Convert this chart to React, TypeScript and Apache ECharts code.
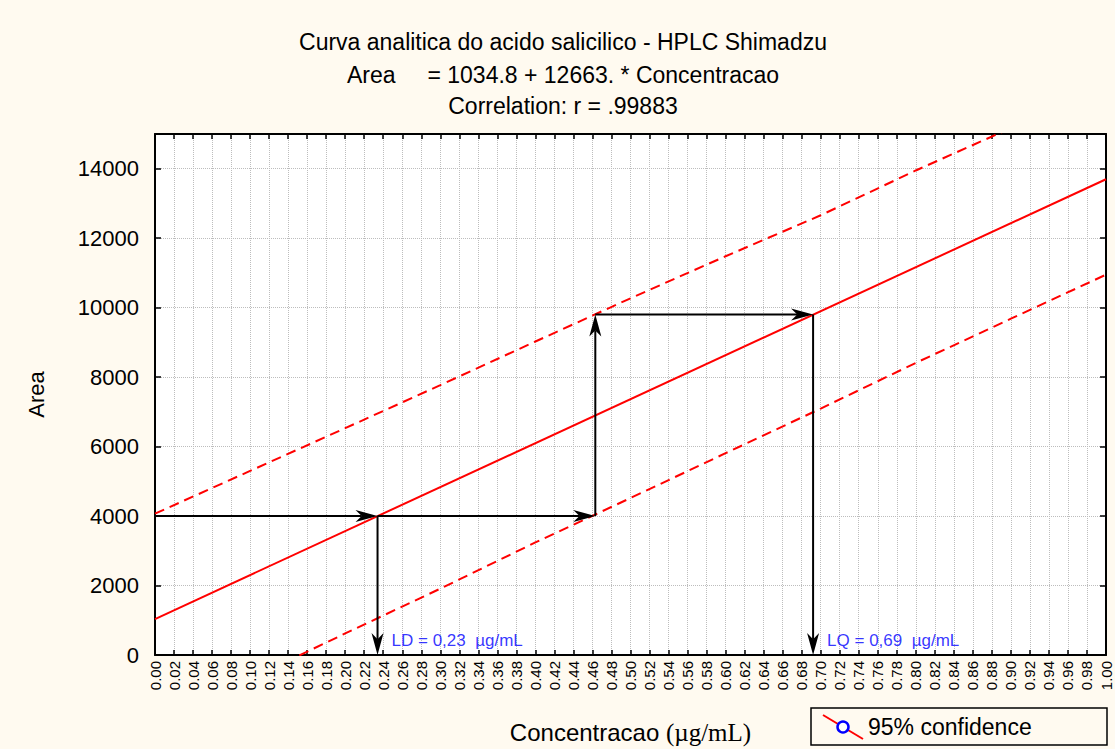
import React, { useEffect, useRef } from 'react';
import * as echarts from 'echarts';

// ---- data ----
const bandX = [0, 0.1, 0.2, 0.3, 0.4, 0.5, 0.6, 0.7, 0.8, 0.9, 1.0];
const upperBand = [4070, 5300, 6530, 7770, 9025, 10270, 11480, 12660, 13950, 15170, 16430];
const lowerBand = [-2000, -690, 620, 1910, 3240, 4520, 5810, 7095, 8410, 9682, 10950];
const regX = [0, 1];
const regY = [1034.8, 13697.8];

const ldX = 0.234;
const lqX = 0.692;
const ldArea = 4000;
const lqArea = 9800;
const crossX = 0.463;
const ldText = 'LD = 0,23\u00a0\u00a0µg/mL';
const lqText = 'LQ = 0,69\u00a0\u00a0µg/mL';
const labelArea = 420;

const titleLines = [
  'Curva analitica do acido salicilico - HPLC Shimadzu',
  'Area\u00a0\u00a0\u00a0\u00a0 = 1034.8 + 12663. * Concentracao',
  'Correlation: r = .99883',
];
const legendLabel = '95% confidence';

const SANS = '"Liberation Sans", Arial, Helvetica, sans-serif';
const SERIF = '"Liberation Serif", "Times New Roman", serif';

export default function App() {
  const ref = useRef<HTMLDivElement>(null);
  useEffect(() => {
    document.body.style.margin = '0';
    const chart = echarts.init(ref.current!, null, { renderer: 'svg' });

    const segs: number[][][] = [
      [[0, ldArea], [ldX, ldArea]],
      [[ldX, ldArea], [crossX, ldArea]],
      [[crossX, ldArea], [crossX, lqArea]],
      [[crossX, lqArea], [lqX, lqArea]],
      [[ldX, ldArea], [ldX, 0]],
      [[lqX, lqArea], [lqX, 0]],
    ];

    const option: any = {
      animation: false,
      backgroundColor: '#FFFAF0',
      textStyle: { fontFamily: SANS },
      grid: {
        left: 155, right: 9, top: 134, bottom: 94,
        outerBoundsMode: 'none',
        containLabel: false,
        show: true, backgroundColor: '#ffffff', borderWidth: 0,
      },
      xAxis: [
        {
          type: 'value', min: 0, max: 1, interval: 0.02,
          position: 'bottom',
          axisLine: { show: true, onZero: false, lineStyle: { color: '#000', width: 2 } },
          axisTick: { show: true, inside: true, length: 5, lineStyle: { color: '#000', width: 1.5 } },
          axisLabel: {
            rotate: 90, fontSize: 15, color: '#000', margin: 6, fontFamily: SANS,
            formatter: (v: number) => v.toFixed(2),
          },
          splitLine: { show: true, lineStyle: { color: '#bdbdbd', type: 'dotted', width: 1 } },
          name: '{a|Concentracao }{b|(µg/mL)}',
          nameLocation: 'middle',
          nameGap: 65,
          nameTextStyle: {
            rich: {
              a: { fontFamily: SANS, fontSize: 24, color: '#000' },
              b: { fontFamily: SERIF, fontSize: 25, color: '#000' },
            },
          },
        },
        {
          type: 'value', min: 0, max: 1, interval: 0.02,
          position: 'top',
          axisLine: { show: true, onZero: false, lineStyle: { color: '#000', width: 2 } },
          axisTick: { show: true, inside: true, length: 5, lineStyle: { color: '#000', width: 1.5 } },
          axisLabel: { show: false },
          splitLine: { show: false },
        },
      ],
      yAxis: [
        {
          type: 'value', min: 0, max: 15000, interval: 2000,
          position: 'left',
          axisLine: { show: true, onZero: false, lineStyle: { color: '#000', width: 2 } },
          axisTick: { show: true, inside: true, length: 6, lineStyle: { color: '#000', width: 1.5 } },
          axisLabel: {
            fontSize: 22, color: '#000', margin: 16, fontFamily: SANS,
            showMaxLabel: false,
            formatter: (v: number) => String(v),
          },
          splitLine: { show: true, lineStyle: { color: '#bdbdbd', type: 'dotted', width: 1 } },
          name: 'Area',
          nameLocation: 'middle',
          nameGap: 108,
          nameRotate: 90,
          nameTextStyle: { fontSize: 22, color: '#000', fontFamily: SANS },
        },
        {
          type: 'value', min: 0, max: 15000, interval: 2000,
          position: 'right',
          axisLine: { show: true, onZero: false, lineStyle: { color: '#000', width: 2 } },
          axisTick: { show: true, inside: true, length: 6, lineStyle: { color: '#000', width: 1.5 } },
          axisLabel: { show: false },
          splitLine: { show: false },
        },
      ],
      series: [
        {
          name: 'Regression',
          type: 'line',
          data: regX.map((x, i) => [x, regY[i]]),
          showSymbol: false,
          lineStyle: { color: '#ff0000', width: 2 },
          clip: true,
          z: 3,
        },
        {
          name: legendLabel,
          type: 'line',
          data: bandX.map((x, i) => [x, upperBand[i]]),
          showSymbol: false,
          lineStyle: { color: '#ff0000', width: 2, type: [10, 6] },
          clip: true,
          z: 3,
        },
        {
          name: legendLabel + ' (lower)',
          type: 'line',
          data: bandX.map((x, i) => [x, lowerBand[i]]),
          showSymbol: false,
          lineStyle: { color: '#ff0000', width: 2, type: [10, 6] },
          clip: true,
          z: 3,
        },
        {
          name: 'arrows',
          type: 'custom',
          data: segs.map((s) => [s[0][0], s[0][1], s[1][0], s[1][1]]),
          encode: { x: [0, 2], y: [1, 3] },
          z: 5,
          silent: true,
          renderItem: (params: any, api: any) => {
            const a = api.coord([api.value(0), api.value(1)]);
            const b = api.coord([api.value(2), api.value(3)]);
            const dx = b[0] - a[0];
            const dy = b[1] - a[1];
            const len = Math.hypot(dx, dy) || 1;
            const ux = dx / len, uy = dy / len;
            const nx = -uy, ny = ux;
            const L = 22, W = 6;
            const bx = b[0] - ux * L, by = b[1] - uy * L;
            const mx = b[0] - ux * L * 0.72, my = b[1] - uy * L * 0.72;
            return {
              type: 'group',
              children: [
                { type: 'line', shape: { x1: a[0], y1: a[1], x2: mx, y2: my },
                  style: { stroke: '#000', lineWidth: 2 } },
                { type: 'polygon',
                  shape: { points: [[b[0], b[1]], [bx + nx * W, by + ny * W], [mx, my], [bx - nx * W, by - ny * W]] },
                  style: { fill: '#000' } },
              ],
            };
          },
        },
        {
          name: 'limits',
          type: 'scatter',
          data: [
            { value: [ldX, labelArea], name: ldText },
            { value: [lqX, labelArea], name: lqText },
          ],
          symbolSize: 0,
          label: {
            show: true, position: 'right', distance: 14,
            formatter: (p: any) => p.name,
            color: '#0000ff', fontSize: 17, fontFamily: SANS,
          },
          z: 6,
          silent: true,
        },
      ],
      graphic: [
        ...titleLines.map((t, i) => ({
          type: 'text',
          x: 563, y: [42, 75, 106][i],
          style: {
            text: t, fill: '#000', fontSize: 23, fontFamily: SANS,
            textAlign: 'center', textVerticalAlign: 'middle',
          },
        })),
        {
          type: 'group',
          children: [
            { type: 'rect', shape: { x: 811, y: 708, width: 296, height: 37 },
              style: { fill: 'transparent', stroke: '#000', lineWidth: 1.5 } },
            { type: 'line', shape: { x1: 823, y1: 715, x2: 863, y2: 739 },
              style: { stroke: '#ff0000', lineWidth: 2 } },
            { type: 'circle', shape: { cx: 843, cy: 727, r: 5.5 },
              style: { fill: '#ffffff', stroke: '#0000ff', lineWidth: 2.5 } },
            { type: 'text', x: 868, y: 727,
              style: { text: legendLabel, fill: '#000', fontSize: 23, fontFamily: SANS,
                textVerticalAlign: 'middle' } },
          ],
        },
      ],
    };
    chart.setOption(option);
    return () => chart.dispose();
  }, []);
  return <div ref={ref} style={{ width: 1115, height: 749 }} />;
}
